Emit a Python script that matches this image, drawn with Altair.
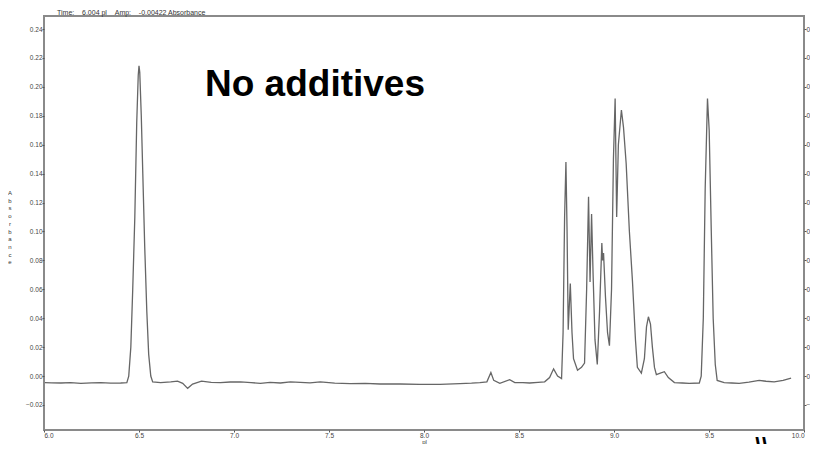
import altair as alt
import pandas as pd

# ---- data ----
times = [6.005, 6.040, 6.089, 6.140, 6.194, 6.250, 6.299, 6.350, 6.404, 6.436,
         6.446, 6.457, 6.467, 6.478, 6.488, 6.496, 6.500, 6.504, 6.512, 6.520,
         6.530, 6.541, 6.551, 6.562, 6.572, 6.614, 6.667, 6.703, 6.730, 6.756,
         6.782, 6.829, 6.880, 6.929, 6.980, 7.034, 7.090, 7.139, 7.190, 7.244,
         7.297, 7.349, 7.400, 7.454, 7.530, 7.612, 7.690, 7.769, 7.874, 7.979,
         8.084, 8.189, 8.250, 8.294, 8.331, 8.352, 8.367, 8.399, 8.451, 8.478,
         8.520, 8.556, 8.600, 8.635, 8.661, 8.682, 8.703, 8.724, 8.732, 8.740,
         8.747, 8.753, 8.759, 8.770, 8.779, 8.787, 8.808, 8.829, 8.845, 8.856,
         8.866, 8.874, 8.882, 8.890, 8.900, 8.912, 8.924, 8.936, 8.940, 8.945,
         8.955, 8.966, 8.976, 8.987, 8.997, 9.006, 9.014, 9.023, 9.039, 9.050,
         9.064, 9.081, 9.097, 9.113, 9.123, 9.144, 9.160, 9.171, 9.181, 9.192,
         9.202, 9.213, 9.223, 9.244, 9.265, 9.286, 9.318, 9.360, 9.396, 9.449,
         9.459, 9.470, 9.480, 9.492, 9.501, 9.512, 9.522, 9.533, 9.543, 9.580,
         9.620, 9.659, 9.710, 9.764, 9.800, 9.843, 9.890, 9.932]
absorbance = [-0.0045, -0.0047, -0.0048, -0.0046, -0.0050, -0.0047, -0.0046, -0.0049, -0.0048, -0.0045,
              0.000, 0.020, 0.060, 0.110, 0.175, 0.208, 0.2145, 0.210, 0.180, 0.140,
              0.090, 0.045, 0.015, 0.000, -0.004, -0.0045, -0.0040, -0.0035, -0.0050, -0.0085,
              -0.0055, -0.0035, -0.0043, -0.0045, -0.0041, -0.0040, -0.0046, -0.0050, -0.0044, -0.0048,
              -0.0040, -0.0044, -0.0047, -0.0040, -0.0049, -0.0052, -0.0050, -0.0055, -0.0055, -0.0058,
              -0.0058, -0.0052, -0.0049, -0.0045, -0.0040, 0.0025, -0.0030, -0.0050, -0.0025, -0.0045,
              -0.0046, -0.0048, -0.0044, -0.0040, -0.0010, 0.0050, 0.0000, -0.0018, 0.030, 0.110,
              0.148, 0.100, 0.032, 0.064, 0.030, 0.012, 0.004, 0.006, 0.009, 0.060,
              0.124, 0.065, 0.112, 0.070, 0.025, 0.008, 0.045, 0.092, 0.080, 0.085,
              0.055, 0.030, 0.021, 0.060, 0.150, 0.192, 0.110, 0.160, 0.184, 0.172,
              0.147, 0.100, 0.066, 0.025, 0.006, 0.002, 0.012, 0.034, 0.041, 0.036,
              0.020, 0.006, 0.001, 0.002, 0.003, -0.001, -0.0045, -0.0048, -0.0050, -0.0048,
              0.000, 0.040, 0.130, 0.192, 0.170, 0.100, 0.040, 0.008, -0.003, -0.0045,
              -0.0048, -0.0050, -0.0042, -0.0030, -0.0036, -0.0040, -0.0030, -0.0015]

x_ticks = [6.0, 6.5, 7.0, 7.5, 8.0, 8.5, 9.0, 9.5, 10.0]
y_ticks = [-0.02, 0.00, 0.02, 0.04, 0.06, 0.08, 0.10, 0.12, 0.14, 0.16, 0.18, 0.20, 0.22, 0.24]
x_title = "pl"
y_title_letters = list("Absorbance")
NB = "\u00a0"
header = f"Time:{NB*4}6.004 pl{NB*4}Amp:{NB*4}-0.00422 Absorbance"
annotation = "No additives"
scribble = "\\\\"

df = pd.DataFrame({"t": times, "a": absorbance})

x_scale = alt.Scale(domain=[6, 10], nice=False, zero=False)
y_scale = alt.Scale(domain=[-0.0373, 0.249], nice=False, zero=False)

x_enc = alt.X("t:Q", scale=x_scale,
              axis=alt.Axis(values=x_ticks, format=".1f", title=x_title,
                            titleFontSize=6, titleFontWeight="normal", titlePadding=0,
                            titleColor="#333"))

line = alt.Chart(df).mark_line(color="#666666", strokeWidth=1.3, clip=True).encode(
    x=x_enc,
    y=alt.Y("a:Q", scale=y_scale,
            axis=alt.Axis(values=y_ticks, format=".2f", title=None, orient="left")),
)

right_axis = alt.Chart(df).mark_line(opacity=0).encode(
    x=x_enc,
    y=alt.Y("a:Q", scale=y_scale,
            axis=alt.Axis(values=y_ticks, format=".2f", title=None, orient="right")),
)

header_txt = alt.Chart(pd.DataFrame({"s": [header]})).mark_text(
    align="left", baseline="middle", fontSize=7, font="Liberation Sans", color="#333"
).encode(x=alt.value(13), y=alt.value(-3), text="s:N")

note_txt = alt.Chart(pd.DataFrame({"s": [annotation]})).mark_text(
    align="left", baseline="middle", fontSize=37, fontWeight="bold",
    font="Liberation Sans", color="#000"
).encode(x=alt.value(161), y=alt.value(69), text="s:N")

ytitle_txt = alt.Chart(pd.DataFrame({"s": ["\n".join(y_title_letters)]})).mark_text(
    align="center", baseline="middle", fontSize=6, lineHeight=7.7, lineBreak="\n",
    font="Liberation Sans", color="#333"
).encode(x=alt.value(-34), y=alt.value(177), text="s:N")

scribble_txt = alt.Chart(pd.DataFrame({"s": [scribble]})).mark_text(
    align="center", baseline="middle", fontSize=24, fontWeight="bold",
    font="Liberation Sans", color="#000"
).encode(x=alt.value(718), y=alt.value(432), text="s:N")

chart = alt.layer(line, right_axis, header_txt, note_txt, ytitle_txt, scribble_txt).resolve_axis(
    y="independent"
).properties(
    width=760, height=414,
    autosize="none",
    padding={"left": 36, "top": 8, "right": 6, "bottom": 14},
    background="white",
).configure_view(
    stroke="#8a8a8a", strokeWidth=2
).configure_axis(
    grid=False, domain=False,
    labelFont="Liberation Sans", labelFontSize=6.5, labelColor="#444",
    tickColor="#555", tickSize=2, labelPadding=0,
    titleFont="Liberation Sans",
)

chart.save("out.html", embed_options={"renderer": "svg", "actions": False})
